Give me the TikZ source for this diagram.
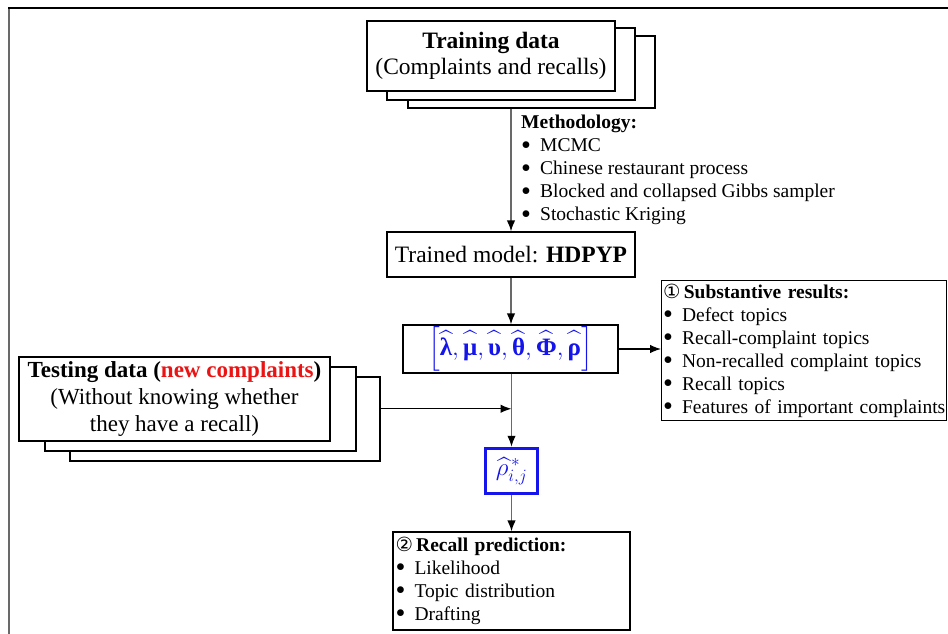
\documentclass[tikz,border=0pt]{standalone}
\usepackage{amsmath}
\usepackage{fontspec}
\setmainfont{Liberation Serif}
\newfontfamily\djv{DejaVu Sans}
\usetikzlibrary{arrows.meta,calc}
\definecolor{myblue}{RGB}{20,20,235}
\definecolor{myred}{RGB}{235,20,20}
\definecolor{linegray}{RGB}{105,105,105}
\newcommand\mybullet{\raisebox{-0.12em}{\scalebox{1.45}{\textbullet}}}
\newcommand\myitem[1]{\mbox{\makebox[19pt][l]{\mybullet}#1}}
\newcommand\bhat[1]{\widehat{\rule{0pt}{0.7em}\text{\bfseries #1}}}
\tikzset{
  box/.style={draw=black, line width=1.2pt, fill=white, inner sep=0pt, align=center},
  bigtext/.style={font=\fontsize{23.5}{26}\selectfont},
  lst/.style={font=\fontsize{19.5}{23}\selectfont, align=left, inner sep=0pt},
  conn/.style={draw=linegray, line width=1.5pt, -{Latex[length=11pt,width=8.5pt,color=black]}},
  hconn/.style={draw=black, line width=1.2pt, -{Latex[length=11pt,width=8.5pt,color=black]}},
}
\begin{document}
\begin{tikzpicture}[x=1pt,y=-1pt]
\useasboundingbox (0,0) rectangle (948,634);
% outer frame (cropped)
\draw[linegray, line width=2pt] (9,634) -- (9,8);
\draw[black, line width=1.5pt] (8,8) -- (948,8);

% training data stack
\node[box, minimum width=247pt, minimum height=72pt] (train3) at (531.5,72) {};
\node[box, minimum width=248pt, minimum height=72pt] (train2) at (511,64) {};
\node[box, bigtext, minimum width=248pt, minimum height=70pt] (train1) at (491,56)
  {\textbf{Training data}\\(Complaints and recalls)};

% trained model
\node[box, bigtext, minimum width=248pt, minimum height=45pt] (trained) at (511,254.5)
  {Trained model: \textbf{HDPYP}};

% methodology text
\node[lst, anchor=north west] (meth) at (521,115)
  {\textbf{Methodology:}\\
   \myitem{MCMC}\\
   \myitem{Chinese restaurant process}\\
   \myitem{Blocked and collapsed Gibbs sampler}\\
   \myitem{Stochastic Kriging}};

% parameter box
\node[box, minimum width=215pt, minimum height=48pt, text=myblue,
      font=\fontsize{25}{28}\selectfont] (params) at (510.5,349)
  {$\left[\bhat{λ},\bhat{μ},\bhat{υ},\bhat{θ},\bhat{Φ},\bhat{ρ}\right]$};

% substantive results
\node[box, lst, anchor=north west, minimum width=285pt, minimum height=140pt,
      text width=282pt] (subst) at (661,280)
  {\mbox{{\djv ①}\,\textbf{Substantive results:}}\\
   \myitem{Defect topics}\\
   \myitem{Recall-complaint topics}\\
   \myitem{Non-recalled complaint topics}\\
   \myitem{Recall topics}\\
   \myitem{Features of important complaints}};

% testing data stack
\node[box, minimum width=310pt, minimum height=84pt] (test3) at (225,419) {};
\node[box, minimum width=311pt, minimum height=84pt] (test2) at (200.5,409) {};
\node[box, minimum width=311pt, minimum height=84pt,
      font=\fontsize{23}{27}\selectfont] (test1) at (174.5,399)
  {\textbf{Testing data (\textcolor{myred}{new complaints})}\\
   (Without knowing whether\\they have a recall)};

% rho box
\node[draw=myblue, line width=3.5pt, fill=white, minimum width=52pt, minimum height=45pt,
      inner sep=0pt, text=myblue, font=\fontsize{24}{26}\selectfont] (rho) at (511.5,471)
  {$\widehat{\rho}^{\,*}_{i,j}$};

% recall prediction
\node[box, lst, minimum width=237pt, minimum height=98pt, text width=232pt] (pred) at (511.5,581)
  {\mbox{{\djv ②}\,\textbf{Recall prediction:}}\\
   \myitem{Likelihood}\\
   \myitem{Topic distribution}\\
   \myitem{Drafting}};

% connectors
\draw[conn] (train3.south -| trained.north) -- (trained.north);
\draw[conn] (trained.south) -- (trained.south |- params.north);
\draw[hconn] (params.east) -- (params.east -| subst.west);
\draw[conn] (params.south -| rho.north) -- (rho.north);
\coordinate (tin) at ($(test3.north east)!0.38!(test3.south east)$);
\draw[hconn] (tin) -- (tin -| rho.north);
\draw[conn] (rho.south) -- (pred.north);
\end{tikzpicture}
\end{document}
